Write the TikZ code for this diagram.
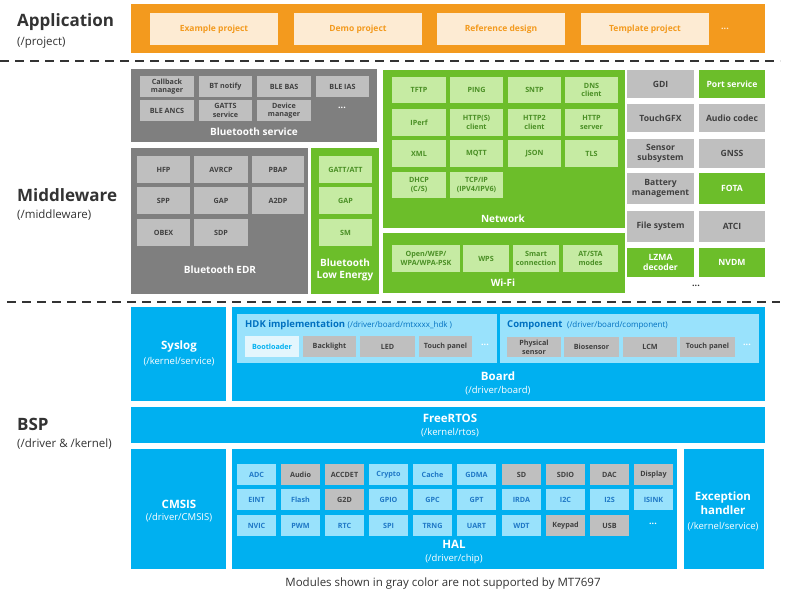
\documentclass[tikz,border=0pt]{standalone}
\usepackage{fontspec}
\setmainfont{Open Sans}
\definecolor{apporange}{HTML}{F39A1E}
\definecolor{applight}{HTML}{FDEBD3}
\definecolor{mwgray}{HTML}{7F7F7F}
\definecolor{itemgray}{HTML}{BFBFBF}
\definecolor{txtgray}{HTML}{404040}
\definecolor{mwgreen}{HTML}{6CBE2A}
\definecolor{itemgreen}{HTML}{C6EBA3}
\definecolor{txtgreen}{HTML}{4A8F25}
\definecolor{bspblue}{HTML}{00B0F0}
\definecolor{itemblue}{HTML}{99E2FC}
\definecolor{txtblue}{HTML}{0070C0}
\definecolor{haltxt}{HTML}{1F78C6}
\definecolor{bootblue}{HTML}{E3F6FD}
\definecolor{headtxt}{HTML}{333333}
\tikzset{
	blk/.style={inner sep=0pt, outer sep=0pt, anchor=north west, align=center},
	itemfont/.style={font=\bfseries\fontsize{7.2}{8.6}\selectfont},
	appitem/.style={blk, fill=applight, text=apporange, font=\bfseries\fontsize{8.5}{10}\selectfont},
	grayblk/.style={blk, fill=mwgray},
	grayitem/.style={blk, itemfont, fill=itemgray, text=txtgray},
	greenblk/.style={blk, fill=mwgreen},
	greenitem/.style={blk, itemfont, fill=itemgreen, text=txtgreen},
	mwitem/.style={blk, font=\bfseries\fontsize{8.6}{10.5}\selectfont, fill=itemgray, text=txtgray},
	mwsolid/.style={blk, font=\bfseries\fontsize{8.6}{10.5}\selectfont, fill=mwgreen, text=white},
	blueblk/.style={blk, fill=bspblue},
	lightblk/.style={blk, fill=itemblue},
	blueitem/.style={blk, itemfont, fill=itemblue, text=haltxt},
	blktitle/.style={inner sep=0pt, text=white, align=center, font=\bfseries\fontsize{10}{12}\selectfont},
	bsptitle/.style={inner sep=0pt, text=white, align=center, font=\bfseries\fontsize{11.5}{14}\selectfont},
	blksub/.style={inner sep=0pt, text=white, font=\fontsize{9.5}{11}\selectfont},
	layerhead/.style={inner sep=0pt, anchor=west, text=headtxt, font=\bfseries\fontsize{17}{20}\selectfont},
	layerpath/.style={inner sep=0pt, anchor=west, text=headtxt, font=\fontsize{11.5}{13}\selectfont},
	sep/.style={dashed, dash pattern=on 9pt off 6pt, line width=1.6pt, draw=headtxt},
	dots/.style={inner sep=0pt, font=\bfseries\fontsize{9}{10}\selectfont}
}
\begin{document}
\begin{tikzpicture}[x=1pt,y=-1pt]
	\useasboundingbox[fill=white] (0,0) rectangle (789,600);
	
	% application layer
	\node[layerhead] (apphead) at (17,22) {Application};
	\node[layerpath] (apppath) at (17,43) {(/project)};
	\node[blk, fill=apporange, minimum width=634, minimum height=49] (app) at (131,4) {};
	\node[appitem, minimum width=128, minimum height=32] (appex) at (150,13) {Example project};
	\node[appitem, minimum width=128, minimum height=32] (appdemo) at (294,13) {Demo project};
	\node[appitem, minimum width=128, minimum height=32] (appref) at (437,13) {Reference design};
	\node[appitem, minimum width=128, minimum height=32] (apptpl) at (581,13) {Template project};
	\node[dots, text=applight] (appdots) at (725,29) {...};
	
	\draw[sep] (0,61) -- (780,61);
	
	% middleware layer
	\node[layerhead] (mwhead) at (17,195) {Middleware};
	\node[layerpath] (mwpath) at (17,215) {(/middleware)};
	
	\node[grayblk, minimum width=246, minimum height=73] (btsvc) at (131,69) {};
	\node[grayitem, minimum width=54, minimum height=21] (cbmgr) at (140,76) {Callback\\manager};
	\node[grayitem, minimum width=53, minimum height=21] (btnotify) at (199,76) {BT notify};
	\node[grayitem, minimum width=54, minimum height=21] (blebas) at (257,76) {BLE BAS};
	\node[grayitem, minimum width=53, minimum height=21] (bleias) at (316,76) {BLE IAS};
	\node[grayitem, minimum width=54, minimum height=21] (bleancs) at (140,100) {BLE ANCS};
	\node[grayitem, minimum width=53, minimum height=21] (gatts) at (199,100) {GATTS\\service};
	\node[grayitem, minimum width=54, minimum height=21] (devmgr) at (257,100) {Device\\manager};
	\node[dots, text=white] (btsvcdots) at (342,108) {...};
	\node[blktitle] (btsvclbl) at (254,132) {Bluetooth service};
	
	\node[grayblk, minimum width=177, minimum height=146] (edr) at (131,148) {};
	\node[grayitem, minimum width=53, minimum height=27] (hfp) at (137,156) {HFP};
	\node[grayitem, minimum width=54, minimum height=27] (avrcp) at (194,156) {AVRCP};
	\node[grayitem, minimum width=52, minimum height=27] (pbap) at (252,156) {PBAP};
	\node[grayitem, minimum width=53, minimum height=27] (spp) at (137,187) {SPP};
	\node[grayitem, minimum width=54, minimum height=27] (edrgap) at (194,187) {GAP};
	\node[grayitem, minimum width=52, minimum height=27] (a2dp) at (252,187) {A2DP};
	\node[grayitem, minimum width=53, minimum height=27] (obex) at (137,219) {OBEX};
	\node[grayitem, minimum width=54, minimum height=27] (sdp) at (194,219) {SDP};
	\node[blktitle] (edrlbl) at (220,270) {Bluetooth EDR};
	
	\node[greenblk, minimum width=68, minimum height=146] (ble) at (311,148) {};
	\node[greenitem, minimum width=53, minimum height=27] (gatt) at (319,156) {GATT/ATT};
	\node[greenitem, minimum width=53, minimum height=27] (blegap) at (319,187) {GAP};
	\node[greenitem, minimum width=53, minimum height=27] (sm) at (319,219) {SM};
	\node[blktitle] (blelbl) at (345,270) {Bluetooth\\Low Energy};
	
	\node[greenblk, minimum width=242, minimum height=158] (net) at (383,70) {};
	\node[greenitem, minimum width=54, minimum height=26] (tftp) at (392,77) {TFTP};
	\node[greenitem, minimum width=53, minimum height=26] (ping) at (450,77) {PING};
	\node[greenitem, minimum width=53, minimum height=26] (sntp) at (508,77) {SNTP};
	\node[greenitem, minimum width=53, minimum height=26] (dns) at (565,77) {DNS\\client};
	\node[greenitem, minimum width=54, minimum height=27] (iperf) at (392,109) {IPerf};
	\node[greenitem, minimum width=53, minimum height=27] (https) at (450,109) {HTTP(S)\\client};
	\node[greenitem, minimum width=53, minimum height=27] (http2) at (508,109) {HTTP2\\client};
	\node[greenitem, minimum width=53, minimum height=27] (httpsrv) at (565,109) {HTTP\\server};
	\node[greenitem, minimum width=54, minimum height=27] (xml) at (392,140) {XML};
	\node[greenitem, minimum width=53, minimum height=27] (mqtt) at (450,140) {MQTT};
	\node[greenitem, minimum width=53, minimum height=27] (json) at (508,140) {JSON};
	\node[greenitem, minimum width=53, minimum height=27] (tls) at (565,140) {TLS};
	\node[greenitem, minimum width=54, minimum height=26] (dhcp) at (392,172) {DHCP\\(C/S)};
	\node[greenitem, minimum width=53, minimum height=26] (tcpip) at (450,172) {TCP/IP\\(IPV4/IPV6)};
	\node[blktitle] (netlbl) at (503,219) {Network};
	
	\node[greenblk, minimum width=242, minimum height=60] (wifi) at (383,233) {};
	\node[greenitem, minimum width=68, minimum height=27] (wpa) at (392,245) {Open/WEP/\\WPA/WPA-PSK};
	\node[greenitem, minimum width=46, minimum height=27] (wps) at (463,245) {WPS};
	\node[greenitem, minimum width=46, minimum height=27] (smart) at (513,245) {Smart\\connection};
	\node[greenitem, minimum width=55, minimum height=27] (atsta) at (563,245) {AT/STA\\modes};
	\node[blktitle] (wifilbl) at (503,283) {Wi-Fi};
	
	\node[mwitem, minimum width=67, minimum height=28] (gdi) at (627,70) {GDI};
	\node[mwsolid, minimum width=66, minimum height=28] (port) at (699,70) {Port service};
	\node[mwitem, minimum width=67, minimum height=28] (touchgfx) at (627,104) {TouchGFX};
	\node[mwitem, minimum width=66, minimum height=28] (audio) at (699,104) {Audio codec};
	\node[mwitem, minimum width=67, minimum height=29] (sensor) at (627,139) {Sensor\\subsystem};
	\node[mwitem, minimum width=66, minimum height=29] (gnss) at (699,139) {GNSS};
	\node[mwitem, minimum width=67, minimum height=31] (battery) at (627,173) {Battery\\management};
	\node[mwsolid, minimum width=66, minimum height=31] (fota) at (699,173) {FOTA};
	\node[mwitem, minimum width=67, minimum height=31] (fs) at (627,211) {File system};
	\node[mwitem, minimum width=66, minimum height=31] (atci) at (699,211) {ATCI};
	\node[mwsolid, minimum width=67, minimum height=29] (lzma) at (627,248) {LZMA\\decoder};
	\node[mwsolid, minimum width=66, minimum height=29] (nvdm) at (699,248) {NVDM};
	\node[dots, text=headtxt] (mwdots) at (696,286) {...};
	
	\draw[sep] (7,302) -- (780,302);
	
	% bsp layer
	\node[layerhead] (bsphead) at (17,424) {BSP};
	\node[layerpath] (bsppath) at (17,444) {(/driver \& /kernel)};
	
	\node[blueblk, minimum width=95, minimum height=94] (syslog) at (131,307) {};
	\node[bsptitle] (sysloglbl) at (179,347) {Syslog};
	\node[blksub] (syslogpath) at (179,362) {(/kernel/service)};
	
	\node[blueblk, minimum width=533, minimum height=94] (board) at (232,307) {};
	\node[lightblk, minimum width=260, minimum height=49] (hdk) at (237,314) {};
	\node[inner sep=0pt, anchor=west, text=txtblue] (hdklbl) at (245,325) {\bfseries\fontsize{9.5}{11}\selectfont HDK implementation \mdseries\fontsize{8}{10}\selectfont (/driver/board/mtxxxx\_hdk )};
	\node[blk, itemfont, fill=bootblue, text=bspblue, minimum width=54, minimum height=21] (boot) at (245,336) {Bootloader};
	\node[grayitem, minimum width=53, minimum height=21] (backlight) at (303,336) {Backlight};
	\node[grayitem, minimum width=55, minimum height=21] (led) at (360,336) {LED};
	\node[grayitem, minimum width=53, minimum height=21] (hdktouch) at (419,336) {Touch panel};
	\node[dots, text=white] (hdkdots) at (485,345) {...};
	\node[lightblk, minimum width=259, minimum height=49] (comp) at (500,314) {};
	\node[inner sep=0pt, anchor=west, text=txtblue] (complbl) at (507,325) {\bfseries\fontsize{9.5}{11}\selectfont Component \mdseries\fontsize{8}{10}\selectfont\ (/driver/board/component)};
	\node[grayitem, minimum width=54, minimum height=20] (physens) at (507,337) {Physical\\sensor};
	\node[grayitem, minimum width=55, minimum height=20] (biosens) at (564,337) {Biosensor};
	\node[grayitem, minimum width=54, minimum height=20] (lcm) at (623,337) {LCM};
	\node[grayitem, minimum width=55, minimum height=20] (comptouch) at (680,337) {Touch panel};
	\node[dots, text=white] (compdots) at (747,345) {...};
	\node[bsptitle] (boardlbl) at (498,376) {Board};
	\node[blksub] (boardpath) at (498,391) {(/driver/board)};
	
	\node[blueblk, minimum width=634, minimum height=36] (rtos) at (131,407) {};
	\node[bsptitle] (rtoslbl) at (450,418) {FreeRTOS};
	\node[blksub] (rtospath) at (450,433) {(/kernel/rtos)};
	
	\node[blueblk, minimum width=95, minimum height=120] (cmsis) at (131,449) {};
	\node[bsptitle] (cmsislbl) at (179,504) {CMSIS};
	\node[blksub] (cmsispath) at (179,518) {(/driver/CMSIS)};
	
	\node[blueblk, minimum width=445, minimum height=120] (hal) at (232,449) {};
	\node[blueitem, minimum width=39, minimum height=21] (adc) at (237,464) {ADC};
	\node[grayitem, minimum width=39, minimum height=21] (halaudio) at (281,464) {Audio};
	\node[grayitem, minimum width=39, minimum height=21] (accdet) at (325,464) {ACCDET};
	\node[blueitem, minimum width=39, minimum height=21] (crypto) at (369,464) {Crypto};
	\node[blueitem, minimum width=39, minimum height=21] (cache) at (413,464) {Cache};
	\node[blueitem, minimum width=39, minimum height=21] (gdma) at (457,464) {GDMA};
	\node[grayitem, minimum width=39, minimum height=21] (sd) at (502,464) {SD};
	\node[grayitem, minimum width=39, minimum height=21] (sdio) at (546,464) {SDIO};
	\node[grayitem, minimum width=39, minimum height=21] (dac) at (590,464) {DAC};
	\node[grayitem, minimum width=39, minimum height=21] (display) at (634,464) {Display};
	\node[blueitem, minimum width=39, minimum height=21] (eint) at (237,489) {EINT};
	\node[blueitem, minimum width=39, minimum height=21] (flash) at (281,489) {Flash};
	\node[grayitem, minimum width=39, minimum height=21] (g2d) at (325,489) {G2D};
	\node[blueitem, minimum width=39, minimum height=21] (gpio) at (369,489) {GPIO};
	\node[blueitem, minimum width=39, minimum height=21] (gpc) at (413,489) {GPC};
	\node[blueitem, minimum width=39, minimum height=21] (gpt) at (457,489) {GPT};
	\node[blueitem, minimum width=39, minimum height=21] (irda) at (502,489) {IRDA};
	\node[blueitem, minimum width=39, minimum height=21] (i2c) at (546,489) {I2C};
	\node[blueitem, minimum width=39, minimum height=21] (i2s) at (590,489) {I2S};
	\node[blueitem, minimum width=39, minimum height=21] (isink) at (634,489) {ISINK};
	\node[blueitem, minimum width=39, minimum height=21] (nvic) at (237,515) {NVIC};
	\node[blueitem, minimum width=39, minimum height=21] (pwm) at (281,515) {PWM};
	\node[blueitem, minimum width=39, minimum height=21] (rtc) at (325,515) {RTC};
	\node[blueitem, minimum width=39, minimum height=21] (spi) at (369,515) {SPI};
	\node[blueitem, minimum width=39, minimum height=21] (trng) at (413,515) {TRNG};
	\node[blueitem, minimum width=39, minimum height=21] (uart) at (457,515) {UART};
	\node[blueitem, minimum width=39, minimum height=21] (wdt) at (502,515) {WDT};
	\node[grayitem, minimum width=39, minimum height=21] (keypad) at (546,515) {Keypad};
	\node[grayitem, minimum width=39, minimum height=21] (usb) at (590,515) {USB};
	\node[dots, text=white] (haldots) at (653,524) {...};
	\node[bsptitle] (hallbl) at (454,544) {HAL};
	\node[blksub] (halpath) at (454,559) {(/driver/chip)};
	
	\node[blueblk, minimum width=80, minimum height=120] (exc) at (684,449) {};
	\node[bsptitle] (exclbl) at (723,503) {Exception\\handler};
	\node[blksub] (excpath) at (723,527) {(/kernel/service)};
	
	\node[inner sep=0pt, text=headtxt, font=\fontsize{11.5}{13}\selectfont] (note) at (443,584) {Modules shown in gray color are not supported by MT7697};
\end{tikzpicture}
\end{document}
